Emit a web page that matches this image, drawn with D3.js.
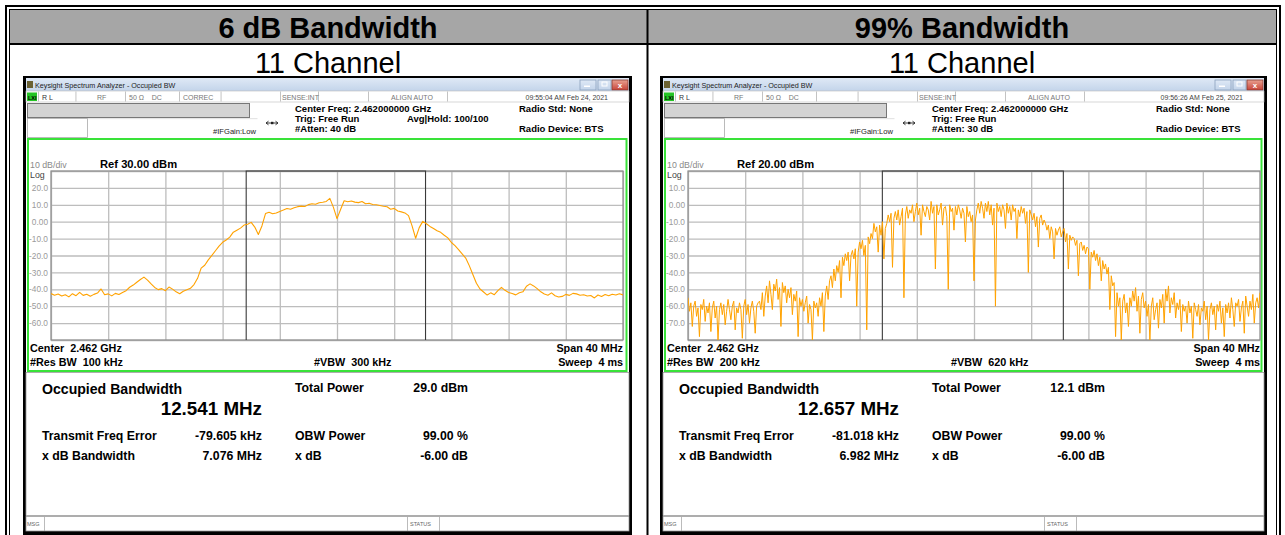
<!DOCTYPE html>
<html><head><meta charset="utf-8">
<script src="https://cdn.jsdelivr.net/npm/d3@7"></script>
<style>
html,body{margin:0;padding:0;background:#fff;overflow:hidden;}
svg{display:block;font-family:"Liberation Sans",Arial,Helvetica,sans-serif;}
svg text{white-space:pre;}
</style></head><body>
<svg id="c" width="1285" height="535"></svg>
<script>
// ---------------- DATA ----------------
const headers = ["6 dB Bandwidth", "99% Bandwidth"];
const subHeaders = ["11 Channel", "11 Channel"];
const timestamps = ["09:55:04 AM Feb 24, 2021", "09:56:26 AM Feb 25, 2021"];
const attenuation = ["#Atten: 40 dB", "#Atten: 30 dB"];
const avgHold = ["Avg|Hold: 100/100", ""];
const correc = ["CORREC", ""];
const refLevels = [30, 20];
const refLabels = ["Ref 30.00 dBm", "Ref 20.00 dBm"];
const yTickValuesLeft = [20, 10, 0, -10, -20, -30, -40, -50, -60];
const yTickLabelsLeft = ["20.0", "10.0", "0.00", "-10.0", "-20.0", "-30.0", "-40.0", "-50.0", "-60.0"];
const yTickValuesRight = [10, 0, -10, -20, -30, -40, -50, -60, -70];
const yTickLabelsRight = ["10.0", "0.00", "-10.0", "-20.0", "-30.0", "-40.0", "-50.0", "-60.0", "-70.0"];
const spanMHz = 40;
const resBW = ["#Res BW  100 kHz", "#Res BW  200 kHz"];
const vbw = ["#VBW  300 kHz", "#VBW  620 kHz"];
const obwMHz = [12.541, 12.657];
const obwLabels = ["12.541 MHz", "12.657 MHz"];
const freqErrorKHz = [-79.605, -81.018];
const freqErrorLabels = ["-79.605 kHz", "-81.018 kHz"];
const xdbBandwidthLabels = ["7.076 MHz", "6.982 MHz"];
const totalPowerLabels = ["29.0 dBm", "12.1 dBm"];
const obwPowerLabels = ["99.00 %", "99.00 %"];
const xdbLabels = ["-6.00 dB", "-6.00 dB"];

// trace 1 (dBm), sampled evenly across the 40 MHz span (0.25 MHz steps)
const traceLeft = [
 -42.5,-43.5,-42.8,-44.0,-43.2,-44.5,-42.6,-43.8,-41.8,-43.6,
 -42.9,-44.1,-43.0,-42.2,-39.8,-43.2,-42.7,-43.9,-42.4,-43.1,
 -41.9,-40.8,-38.8,-37.5,-35.8,-34.2,-32.8,-34.6,-36.8,-38.9,
 -40.2,-39.6,-40.8,-38.7,-39.9,-41.5,-42.6,-41.2,-40.3,-39.4,
 -37.2,-33.5,-27.5,-25.8,-22.6,-19.9,-17.2,-14.5,-12.2,-10.8,
 -9.1,-6.2,-5.0,-3.8,-2.0,-1.5,-0.4,-3.2,-7.6,-2.5,
 4.8,5.6,4.7,5.2,6.1,6.9,7.8,7.4,8.3,8.9,
 9.2,9.0,10.1,10.6,10.3,11.2,11.5,12.0,13.8,8.5,
 1.8,7.2,12.4,11.8,12.2,11.6,11.3,11.9,10.6,10.9,
 10.2,10.0,9.6,9.1,8.8,7.4,7.9,6.3,5.8,5.2,
 3.6,-2.5,-9.8,-3.5,0.2,-1.2,-2.8,-4.0,-5.4,-6.3,
 -8.0,-9.6,-12.3,-14.2,-16.5,-19.0,-21.5,-26.0,-31.2,-36.4,
 -39.8,-41.6,-43.4,-42.1,-43.2,-40.8,-38.9,-40.6,-41.9,-42.5,
 -43.3,-42.0,-41.5,-38.2,-36.8,-38.0,-39.6,-41.5,-42.8,-43.5,
 -42.1,-43.8,-44.6,-44.2,-43.0,-43.6,-42.4,-42.7,-43.5,-43.2,
 -44.0,-43.7,-45.1,-43.4,-44.2,-43.1,-43.8,-42.9,-43.4,-42.6,
 -43.3
];
// trace 2 (dBm), sampled evenly across the 40 MHz span (0.1 MHz steps)
const traceRight = [
 -55,-63,-58,-72,-60,-57,-66,-61,-78,-59,
 -62,-56,-69,-60,-64,-58,-75,-61,-57,-67,
 -60,-80,-62,-58,-65,-59,-71,-63,-56,-62,
 -68,-60,-57,-74,-61,-64,-58,-62,-79,-60,
 -56,-65,-59,-70,-61,-57,-63,-76,-60,-58,
 -57,-62,-52,-66,-54,-48,-58,-45,-53,-62,
 -47,-51,-44,-56,-49,-72,-46,-52,-48,-58,
 -50,-55,-49,-65,-53,-57,-51,-78,-55,-60,
 -56,-63,-58,-54,-70,-59,-62,-80,-57,-61,
 -58,-66,-55,-60,-52,-75,-54,-48,-56,-45,
 -42,-49,-38,-45,-36,-40,-33,-55,-31,-36,
 -29,-33,-28,-45,-30,-27,-32,-26,-60,-28,
 -22,-26,-21,-30,-24,-74,-19,-23,-17,-20,
 -11,-16,-13,-28,-12,-18,-10,-32,-14,-11,
 -6,-10,-5,-37,-8,-4,-9,-3,-12,-7,
 -2,-55,-6,-1,-8,-3,-5,0,-10,-4,
 1,-6,-2,-18,0,-4,-7,-1,-3,-9,
 2,-5,-1,-38,0,-6,-3,1,-12,-2,
 -1,-7,-50,0,-4,-2,-15,-1,-6,0,
 -3,-8,-2,-5,-22,-1,-7,-4,-10,-6,
 -45,-9,-3,1,-5,2,-2,-8,1,-4,
 2,-6,0,-12,-2,-60,1,-4,-1,-7,
 0,-3,-14,1,-5,-1,-9,0,-4,-2,
 -20,-3,-7,-1,-5,-2,-11,-4,-40,-3,
 -6,-9,-5,-13,-7,-25,-8,-6,-12,-9,
 -11,-15,-12,-20,-13,-16,-32,-14,-18,-15,
 -13,-19,-16,-14,-22,-17,-38,-18,-21,-19,
 -20,-24,-21,-42,-23,-22,-27,-24,-29,-25,
 -26,-50,-28,-31,-27,-33,-29,-36,-31,-45,
 -33,-38,-35,-41,-37,-62,-42,-48,-46,-78,
 -52,-60,-55,-80,-57,-53,-64,-58,-72,-55,
 -60,-51,-57,-49,-63,-54,-76,-56,-52,-61,
 -57,-66,-59,-80,-60,-55,-68,-62,-58,-73,
 -56,-61,-53,-70,-50,-57,-48,-64,-55,-59,
 -52,-67,-58,-62,-56,-75,-59,-63,-60,-70,
 -57,-64,-60,-79,-58,-62,-66,-59,-71,-61,
 -63,-57,-68,-60,-80,-62,-58,-65,-60,-74,
 -59,-63,-57,-70,-61,-78,-59,-64,-58,-67,
 -55,-62,-72,-58,-60,-56,-69,-61,-57,-76,
 -54,-60,-66,-57,-62,-53,-70,-58,-55,-61,
 -52
];

const traces = [traceLeft, traceRight];
const yTickValues = [yTickValuesLeft, yTickValuesRight];
const yTickLabels = [yTickLabelsLeft, yTickLabelsRight];

// ---------------- DRAW ----------------
const svg = d3.select("#c");
const defs = svg.append("defs");
const grad = defs.append("linearGradient").attr("id","tb").attr("x1",0).attr("y1",0).attr("x2",0).attr("y2",1);
grad.append("stop").attr("offset","0%").attr("stop-color","#dfe9f6");
grad.append("stop").attr("offset","100%").attr("stop-color","#c3d4ea");
const gradR = defs.append("linearGradient").attr("id","cl").attr("x1",0).attr("y1",0).attr("x2",0).attr("y2",1);
gradR.append("stop").attr("offset","0%").attr("stop-color","#e8a090");
gradR.append("stop").attr("offset","100%").attr("stop-color","#c8453a");

// table
svg.append("rect").attr("x",10).attr("y",10).attr("width",1266).attr("height",33).attr("fill","#a6a6a6");
const blk = (x,y,w,h)=>svg.append("rect").attr("x",x).attr("y",y).attr("width",w).attr("height",h).attr("fill","#000");
blk(5,5,1276,2); blk(9,9,1268,1);
blk(5,5,2,540); blk(9,9,1,540);
blk(1279,5,2,540); blk(1276,9,1,540);
blk(9,43,1268,2);
blk(646.5,9,2,540);

const colCenters = [328, 962];
headers.forEach((h,i)=>{
  svg.append("text").attr("x",colCenters[i]).attr("y",37.5).attr("text-anchor","middle")
    .attr("font-size",29).attr("font-weight","bold").attr("fill","#000").text(h);
  svg.append("text").attr("x",colCenters[i]).attr("y",72.5).attr("text-anchor","middle")
    .attr("font-size",29).attr("fill","#000").text(subHeaders[i]);
});

function drawPanel(i, dx, frameW) {
  const g = svg.append("g").attr("transform",`translate(${dx},0)`);
  const R = (x,y,w,h,fill,stroke,sw)=>g.append("rect").attr("x",x).attr("y",y).attr("width",w).attr("height",h)
      .attr("fill",fill||"none").attr("stroke",stroke||"none").attr("stroke-width",sw||1);
  const T = (x,y,t,size,opts={})=>g.append("text").attr("x",x).attr("y",y).attr("font-size",size)
      .attr("font-weight",opts.bold?"bold":"normal").attr("fill",opts.fill||"#000")
      .attr("text-anchor",opts.anchor||"start").text(t);

  // window frame
  R(23,76,frameW,470,"#000");
  R(26,78,frameW-6,453,"#fff");
  // title bar
  R(26,78,frameW-6,13,"url(#tb)");
  R(27,81,6,7,"#6b6233");
  T(35,88,"Keysight Spectrum Analyzer - Occupied BW",7.2,{fill:"#222"});
  const bx = frameW-34;
  R(bx+5,80,16,10,"url(#tb)","#8aa0bd",0.8);
  R(bx+9,85.5,6,1.5,"#fff");
  R(bx+23,80,13,10,"url(#tb)","#8aa0bd",0.8);
  R(bx+27,82,5,4,"none","#fff",1);
  R(bx+37,80,16,10,"url(#cl)","#8a3a30",0.8);
  T(bx+45,88,"x",8,{fill:"#fff",anchor:"middle",bold:true});

  // status row
  R(26,91,frameW-6,11,"#fff","#bbb",0.6);
  R(27,92.5,10,8.5,"#25c425");
  T(28,99.5,"LXI",5.5,{fill:"#000",bold:true});
  [38,75.6,125,179,220.7,280,318,368,447].forEach(sx=>R(sx,91.5,0.7,10,"#aaa"));
  T(42,99.5,"R L",7,{fill:"#333"});
  T(97,99.5,"RF",7,{fill:"#777"});
  T(129,99.5,"50 Ω    DC",7,{fill:"#777"});
  T(183,99.5,correc[i],7,{fill:"#777"});
  T(282,99.5,"SENSE:INT",7,{fill:"#777"});
  T(391,99.5,"ALIGN AUTO",7,{fill:"#777"});
  T(frameW-1,99.5,timestamps[i],7,{fill:"#444",anchor:"end"});

  // settings area
  R(27.5,103.5,222,14,"#d3d3d3","#777",1);
  R(27.5,118.5,60,19,"#fff","#aaa",0.8);
  R(87.5,118.5,170,0.6,"#ccc");
  T(213,134,"#IFGain:Low",7.6,{fill:"#222"});
  g.append("path").attr("d","M266,123 L278,123 M266,123 l2.5,-1.8 M266,123 l2.5,1.8 M278,123 l-2.5,-1.8 M278,123 l-2.5,1.8")
    .attr("stroke","#222").attr("stroke-width",0.9).attr("fill","none");
  R(271,121.8,2.4,2.4,"#222");
  T(295,112,"Center Freq: 2.462000000 GHz",9.5,{bold:true});
  T(295,122,"Trig: Free Run",9.5,{bold:true});
  T(295,132,attenuation[i],9.5,{bold:true});
  T(407,122,avgHold[i],9.5,{bold:true});
  T(519,112,"Radio Std: None",9.5,{bold:true});
  T(519,132,"Radio Device: BTS",9.5,{bold:true});

  // green measurement frame
  R(28,139,frameW-10.5,232,"#fff","#39e239",2);

  // scales
  const ref = refLevels[i];
  const x = d3.scaleLinear().domain([-spanMHz/2, spanMHz/2]).range([51,623]);
  const y = d3.scaleLinear().domain([ref-100, ref]).range([340,171]);

  // grid
  const gx = g.append("g").attr("transform","translate(0,340)")
    .call(d3.axisBottom(x).tickValues(d3.range(-20,20.01,4)).tickSize(-169).tickFormat(""));
  gx.select(".domain").remove();
  gx.selectAll("line").attr("stroke","#bdbdbd").attr("stroke-width",1.3);
  const gy = g.append("g").attr("transform","translate(51,0)")
    .call(d3.axisLeft(y).tickValues(d3.range(ref-100, ref+0.01, 10)).tickSize(-572).tickFormat(""));
  gy.select(".domain").remove();
  gy.selectAll("line").attr("stroke","#bdbdbd").attr("stroke-width",1.3);
  R(51,171,572,169,"none","#8c8c8c",1.2);

  // y tick labels
  const ya = g.append("g").attr("transform","translate(48,0)")
    .call(d3.axisLeft(y).tickValues(yTickValues[i]).tickSize(0).tickPadding(0)
      .tickFormat((v,k)=>yTickLabels[i][k]));
  ya.select(".domain").remove();
  ya.selectAll("text").attr("font-size",8.3).attr("fill","#9a9a9a")
    .attr("font-family",'"Liberation Sans",Arial,sans-serif');

  T(30,167.5,"10 dB/div",8.8,{fill:"#8a8a8a"});
  T(30,177.5,"Log",8.8,{fill:"#444"});
  T(100,168,refLabels[i],11.2,{bold:true});

  // OBW markers
  const fc = freqErrorKHz[i]/1000;
  const xl = x(fc - obwMHz[i]/2), xr = x(fc + obwMHz[i]/2);
  g.append("path").attr("d",`M${xl},340 L${xl},171 L${xr},171 L${xr},340`)
    .attr("fill","none").attr("stroke","#3a3a3a").attr("stroke-width",1.1);

  // trace
  const clipId = "clip"+i;
  g.append("clipPath").attr("id",clipId).append("rect").attr("x",51).attr("y",171).attr("width",572).attr("height",169);
  const data = traces[i];
  const n = data.length;
  const line = d3.line().x((v,k)=>x(-spanMHz/2 + k*spanMHz/(n-1))).y(v=>y(v));
  g.append("path").datum(data).attr("d",line).attr("clip-path",`url(#${clipId})`)
    .attr("fill","none").attr("stroke","#ffa200").attr("stroke-width",i===0?1.1:1.0).attr("stroke-linejoin","round");

  // bottom of plot labels
  T(30,351.5,"Center  2.462 GHz",10.8,{bold:true});
  T(30,365.5,resBW[i],10.8,{bold:true});
  T(314,365.5,vbw[i],10.8,{bold:true});
  T(623,351.5,"Span 40 MHz",10.8,{bold:true,anchor:"end"});
  T(623,365.5,"Sweep  4 ms",10.8,{bold:true,anchor:"end"});

  // results panel
  R(26,372.5,frameW-6,143,"#fff","#9a9a9a",0.8);
  T(42,394,"Occupied Bandwidth",14.1,{bold:true});
  T(262,415,obwLabels[i],18.8,{bold:true,anchor:"end"});
  T(295,392,"Total Power",12.3,{bold:true});
  T(468,392,totalPowerLabels[i],12.3,{bold:true,anchor:"end"});
  T(42,439.5,"Transmit Freq Error",12.3,{bold:true});
  T(262,439.5,freqErrorLabels[i],12.3,{bold:true,anchor:"end"});
  T(295,439.5,"OBW Power",12.3,{bold:true});
  T(468,439.5,obwPowerLabels[i],12.3,{bold:true,anchor:"end"});
  T(42,459.5,"x dB Bandwidth",12.3,{bold:true});
  T(262,459.5,xdbBandwidthLabels[i],12.3,{bold:true,anchor:"end"});
  T(295,459.5,"x dB",12.3,{bold:true});
  T(468,459.5,xdbLabels[i],12.3,{bold:true,anchor:"end"});

  // message bar
  R(26,516.5,frameW-6,14.5,"#fff","#9a9a9a",0.8);
  R(44,516.5,0.8,14.5,"#aaa");
  R(407,516.5,0.8,14.5,"#aaa");
  R(439,516.5,0.8,14.5,"#aaa");
  T(27,526,"MSG",5.5,{fill:"#666"});
  T(410,526,"STATUS",5.5,{fill:"#666"});
}

drawPanel(0, 0, 609);
drawPanel(1, 637, 607);
</script>
</body></html>
